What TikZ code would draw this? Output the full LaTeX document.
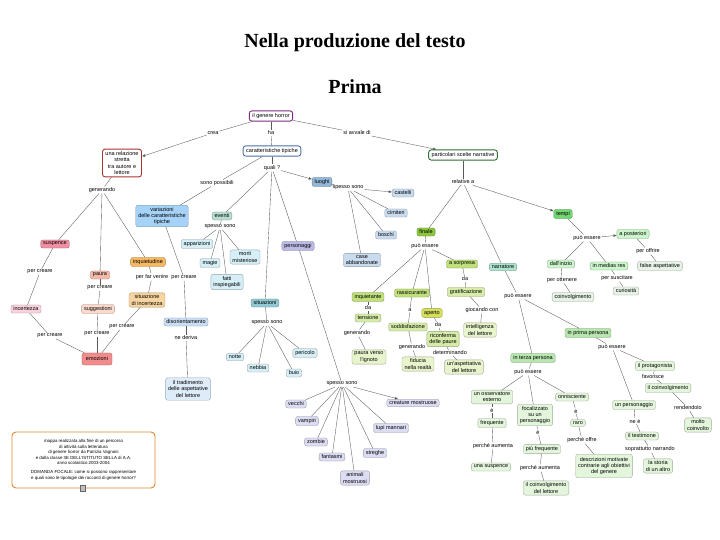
\documentclass[tikz,border=0pt]{standalone}
\usepackage{fontspec}
\setmainfont{Liberation Serif}
\newfontfamily\mapsans{Liberation Sans}
\usetikzlibrary{arrows.meta}
\newcommand\mapfont{\mapsans\fontsize{5.5}{6.2}\selectfont}
\newcommand\legfont{\mapsans\fontsize{4.4}{5.4}\selectfont}
\definecolor{cpurple}{HTML}{7E2A7E}
\definecolor{cred}{HTML}{A83232}
\definecolor{cblue}{HTML}{4A6FA8}
\definecolor{cgreen}{HTML}{2F6E34}
\definecolor{fvar}{HTML}{A6D2F7}
\definecolor{feve}{HTML}{B8DCCE}
\definecolor{fluo}{HTML}{93B7D9}
\definecolor{fluoi}{HTML}{C9DCEF}
\definecolor{fper}{HTML}{BBBBE6}
\definecolor{fperi}{HTML}{DCDCF3}
\definecolor{fsit}{HTML}{90C9D3}
\definecolor{fcy}{HTML}{D6EFF6}
\definecolor{fsus}{HTML}{F190A2}
\definecolor{finc}{HTML}{F9D3DD}
\definecolor{fpau}{HTML}{F5B9AA}
\definecolor{fsug}{HTML}{FBDACE}
\definecolor{finq}{HTML}{F6B862}
\definecolor{fsin}{HTML}{F8D5A0}
\definecolor{femo}{HTML}{F08C8C}
\definecolor{fdis}{HTML}{CADFF3}
\definecolor{ftra}{HTML}{DDECF8}
\definecolor{ffin}{HTML}{8DC63F}
\definecolor{fla}{HTML}{BFE07A}
\definecolor{fape}{HTML}{D6E05C}
\definecolor{flb}{HTML}{D6ECA8}
\definecolor{flc}{HTML}{E8F4CC}
\definecolor{ftem}{HTML}{72D672}
\definecolor{fnar}{HTML}{AEE3CD}
\definecolor{fpers}{HTML}{B8E6B0}
\definecolor{fga}{HTML}{CBF5CB}
\definecolor{fgb}{HTML}{E7F3E7}
\definecolor{fgc}{HTML}{E3F6DC}
\definecolor{corange}{HTML}{E5842E}
\tikzset{
  cpt/.style={rounded corners=2.2pt, fill=#1, draw=#1!70!black, line width=0.35pt,
    inner xsep=2.5pt, inner ysep=2pt, align=center, font=\mapfont},
  mainc/.style={rounded corners=2.5pt, fill=white, draw=#1, line width=0.9pt,
    inner xsep=3pt, inner ysep=2.5pt, align=center, font=\mapfont},
  lbl/.style={inner sep=0.8pt, align=center, font=\mapfont},
  ln/.style={draw=black!65, line width=0.35pt},
  arr/.style={ln, -{Latex[length=3.2pt,width=2.6pt]}},
  ttl/.style={font=\fontsize{20}{24}\selectfont\bfseries}
}
\begin{document}
\begin{tikzpicture}[x=1pt,y=-1pt]
\useasboundingbox (0,0) rectangle (720,540);
\fill[white] (0,0) rectangle (720,540);
\node[ttl] (t1) at (355,43) {Nella produzione del testo};
\node[ttl] (t2) at (355,87) {Prima};

% main concepts
\node[mainc=cpurple] (horror) at (271,116) {il genere horror};
\node[mainc=cred] (rel) at (122,163) {una relazione\\stretta\\tra autore e\\lettore};
\node[mainc=cblue] (car) at (272,151) {caratteristiche tipiche};
\node[mainc=cgreen] (par) at (463,155) {particolari scelte narrative};

% left branch
\node[cpt=fvar] (var) at (162,216) {variazioni\\delle caratteristiche\\tipiche};
\node[cpt=fsus] (sus) at (55,244) {suspence};
\node[cpt=finc] (inc) at (26,309) {incertezza};
\node[cpt=fpau] (pau) at (100,275) {paura};
\node[cpt=fsug] (sug) at (98,309) {suggestioni};
\node[cpt=finq] (inq) at (148,262) {inquietudine};
\node[cpt=fsin] (sin) at (147,300) {situazione\\di incertezza};
\node[cpt=femo, inner xsep=4pt, inner ysep=4pt] (emo) at (97,359) {emozioni};
\node[cpt=fdis] (dis) at (186,322) {disorientamento};
\node[cpt=ftra, inner ysep=3pt] (tra) at (188,389) {il tradimento\\delle aspettative\\del lettore};

% characteristics
\node[cpt=feve] (eve) at (222,216) {eventi};
\node[cpt=fluo] (luo) at (322,182) {luoghi};
\node[cpt=fper] (per) at (298,246) {personaggi};
\node[cpt=fsit] (sit) at (265,303) {situazioni};
\node[cpt=fcy] (app) at (197,244) {apparizioni};
\node[cpt=fcy] (mag) at (210,263) {magie};
\node[cpt=fcy] (mor) at (245,257) {morti\\misteriose};
\node[cpt=fcy] (fat) at (227,282) {fatti\\inspiegabili};
\node[cpt=fluoi] (cas) at (403,193) {castelli};
\node[cpt=fluoi] (cim) at (396,213) {cimiteri};
\node[cpt=fluoi] (bos) at (386,235) {boschi};
\node[cpt=fluoi] (cab) at (362,260) {case\\abbandonate};
\node[cpt=fcy] (nott) at (235,357) {notte};
\node[cpt=fcy] (neb) at (258,368) {nebbia};
\node[cpt=fcy] (bui) at (294,373) {buio};
\node[cpt=fcy] (pcl) at (305,353) {pericolo};
\node[cpt=fperi] (vec) at (296,404) {vecchi};
\node[cpt=fperi] (vam) at (307,421) {vampiri};
\node[cpt=fperi] (zom) at (316,442) {zombie};
\node[cpt=fperi] (fan) at (332,457) {fantasmi};
\node[cpt=fperi] (ani) at (355,478) {animali\\mostruosi};
\node[cpt=fperi] (stre) at (375,453) {streghe};
\node[cpt=fperi] (lup) at (391,428) {lupi mannari};
\node[cpt=fperi] (cre) at (413,403) {creature mostruose};

% narrative choices
\node[cpt=ffin] (fin) at (426,232) {finale};
\node[cpt=fla] (inqt) at (368,297) {inquietante};
\node[cpt=fla] (ras) at (412,293) {rassicurante};
\node[cpt=fla] (sor) at (462,264) {a sorpresa};
\node[cpt=fape] (ape) at (432,313) {aperto};
\node[cpt=flb] (ten) at (368,318) {tensione};
\node[cpt=flb] (sod) at (408,327) {soddisfazione};
\node[cpt=flb] (gra) at (466,292) {gratificazione};
\node[cpt=flb] (ric) at (443,339) {riconferma\\delle paure};
\node[cpt=flc] (pvi) at (369,357) {paura verso\\l'ignoto};
\node[cpt=flc] (fid) at (418,364) {fiducia\\nella realt\`a};
\node[cpt=flc] (asp) at (464,367) {un'aspettativa\\del lettore};
\node[cpt=flc] (intl) at (480,330) {intelligenza\\del lettore};
\node[cpt=fnar] (nar) at (503,267) {narratore};
\node[cpt=ftem] (tem) at (563,214) {tempi};
\node[cpt=fpers] (ter) at (533,358) {in terza persona};
\node[cpt=fpers] (pri) at (588,333) {in prima persona};
\node[cpt=fga] (ini) at (561,264) {dall'inizio};
\node[cpt=fga] (med) at (609,266) {in medias res};
\node[cpt=fga] (pos) at (633,234) {a posteriori};
\node[cpt=fgb] (coi) at (573,297) {coinvolgimento};
\node[cpt=fgb] (cur) at (626,291) {curiosit\`a};
\node[cpt=fgb] (fal) at (660,266) {false aspettative};
\node[cpt=fgc] (oss) at (492,397) {un osservatore\\esterno};
\node[cpt=fgc] (foc) at (535,415) {focalizzato\\su un\\personaggio};
\node[cpt=fgc] (onn) at (572,397) {onnisciente};
\node[cpt=fgc] (fre) at (492,423) {frequente};
\node[cpt=fgc] (pfr) at (542,449) {pi\`u frequente};
\node[cpt=fgc] (rar) at (578,423) {raro};
\node[cpt=fgc] (usu) at (491,467) {una suspence};
\node[cpt=fgc] (cdl) at (546,488) {il coinvolgimento\\del lettore};
\node[cpt=fgc, inner ysep=3pt] (des) at (604,466) {descrizioni motivate\\contrarie agli obiettivi\\del genere};
\node[cpt=fgc] (pro) at (655,366) {il protagonista};
\node[cpt=fgc] (upe) at (634,405) {un personaggio};
\node[cpt=fgc] (ilc) at (668,388) {il coinvolgimento};
\node[cpt=fgc] (mcv) at (698,425) {molto\\coinvolto};
\node[cpt=fgc] (tes) at (642,436) {il testimone};
\node[cpt=fgc] (sto) at (658,466) {la storia\\di un altro};

% link labels
\node[lbl] (lcrea) at (213,133) {crea};
\node[lbl] (lha) at (271,133) {ha};
\node[lbl] (lsia) at (357,133) {si avvale di};
\node[lbl] (lgena) at (102,190) {generando};
\node[lbl] (lpca) at (40,272) {per creare};
\node[lbl] (lpcb) at (100,288) {per creare};
\node[lbl] (lpfv) at (152,277) {per far venire};
\node[lbl] (lpcc) at (50,336) {per creare};
\node[lbl] (lpcd) at (97,334) {per creare};
\node[lbl] (lpce) at (122,327) {per creare};
\node[lbl] (lsp) at (217,183) {sono possibili};
\node[lbl] (lqua) at (272,168) {quali ?};
\node[lbl] (lssa) at (220,227) {spesso sono};
\node[lbl] (lssb) at (348,188) {spesso sono};
\node[lbl] (lssc) at (267,323) {spesso sono};
\node[lbl] (lssd) at (342,384) {spesso sono};
\node[lbl] (lpcf) at (184,278) {per creare};
\node[lbl] (lned) at (186,338) {ne deriva};
\node[lbl] (lrel) at (463,182) {relative a};
\node[lbl] (lpea) at (425,246) {pu\`o essere};
\node[lbl] (ldaa) at (368,308) {da};
\node[lbl] (lgenb) at (357,333) {generando};
\node[lbl] (la) at (410,310) {a};
\node[lbl] (lgenc) at (412,347) {generando};
\node[lbl] (ldab) at (438,325) {da};
\node[lbl] (ldet) at (450,353) {determinando};
\node[lbl] (ldac) at (465,279) {da};
\node[lbl] (lgio) at (482,310) {giocando con};
\node[lbl] (lpeb) at (518,296) {pu\`o essere};
\node[lbl] (lpec) at (528,372) {pu\`o essere};
\node[lbl] (lea) at (492,410) {\`e};
\node[lbl] (lpaa) at (493,446) {perch\'e aumenta};
\node[lbl] (leb) at (538,432) {\`e};
\node[lbl] (lpab) at (540,468) {perch\'e aumenta};
\node[lbl] (lec) at (576,411) {\`e};
\node[lbl] (lpo) at (582,440) {perch\'e offre};
\node[lbl] (lped) at (587,238) {pu\`o essere};
\node[lbl] (lpot) at (562,280) {per ottenere};
\node[lbl] (lpsu) at (617,278) {per suscitare};
\node[lbl] (lpof) at (648,251) {per offrire};
\node[lbl] (lpee) at (612,347) {pu\`o essere};
\node[lbl] (lfav) at (653,377) {favorisce};
\node[lbl] (lren) at (688,408) {rendendolo};
\node[lbl] (lnee) at (635,421) {ne \`e};
\node[lbl] (lson) at (650,449) {soprattutto narrando};

% connectors
\foreach \a/\b in {horror/lcrea, horror/lha, lha/car, horror/lsia,
  rel/lgena, lgena/sus, lgena/pau, lgena/inq,
  sus/lpca, lpca/inc, pau/lpcb, lpcb/sug, inq/lpfv, lpfv/sin,
  inc/lpcc, lpcc/emo, sug/lpcd, lpcd/emo, sin/lpce, lpce/emo,
  car/lsp, lsp/var, car/lqua, lqua/eve, lqua/per, lqua/sit,
  var/lpcf, lpcf/dis, dis/lned, lned/tra,
  eve/lssa, lssa/app, lssa/mag, lssa/mor, lssa/fat,
  luo/lssb, lssb/cim, lssb/bos, lssb/cab,
  sit/lssc, lssc/nott, lssc/neb, lssc/bui, lssc/pcl,
  per/lssd, lssd/vec, lssd/vam, lssd/zom, lssd/fan, lssd/ani, lssd/stre, lssd/lup,
  par/lrel, lrel/fin, lrel/nar,
  fin/lpea, lpea/inqt, lpea/ras, lpea/sor, lpea/ape,
  inqt/ldaa, ldaa/ten, ten/lgenb, lgenb/pvi,
  ras/la, la/sod, sod/lgenc, lgenc/fid,
  ape/ldab, ldab/ric, ric/ldet, ldet/asp,
  sor/ldac, ldac/gra, gra/lgio, lgio/intl,
  nar/lpeb, lpeb/ter, lpeb/pri,
  ter/lpec, lpec/oss, lpec/foc, lpec/onn,
  oss/lea, lea/fre, fre/lpaa, lpaa/usu,
  foc/leb, leb/pfr, pfr/lpab, lpab/cdl,
  onn/lec, lec/rar, rar/lpo, lpo/des,
  tem/lped, lped/ini, lped/med,
  ini/lpot, lpot/coi, med/lpsu, lpsu/cur, pos/lpof, lpof/fal,
  pri/lpee, lpee/pro, lpee/upe,
  pro/lfav, lfav/ilc, ilc/lren, lren/mcv,
  upe/lnee, lnee/tes, tes/lson, lson/sto}
  \draw[ln] (\a) -- (\b);
\draw[arr] (lcrea) -- (rel);
\draw[arr] (lsia) -- (par);
\draw[arr] (lqua) -- (luo);
\draw[arr] (lssb) -- (cas);
\draw[arr] (lssd) -- (cre);
\draw[arr] (lrel) -- (tem);
\draw[arr] (lped) -- (pos);

% legend
\node[draw=corange, line width=0.9pt, rounded corners=4pt, fill=white, align=center,
  minimum width=143pt, minimum height=56pt, font=\legfont] (leg) at (83.5,460)
  {mappa realizzata alla fine di un percorso\\
   di attivit\`a sulla letteratura\\
   di genere horror da Patrizia Vagnoni\\
   e dalla classe 3E DELL'ISTITUTO SELLA di A.A.\\
   anno scolastico 2003-2004\\[4pt]
   DOMANDA FOCALE: come si possono rappresentare\\
   e quali sono le tipologie dei racconti di genere horror?};
\node[draw=black!60, fill=black!25, minimum width=5pt, minimum height=6pt, inner sep=0pt] (icon) at (83,488) {};
\end{tikzpicture}
\end{document}
